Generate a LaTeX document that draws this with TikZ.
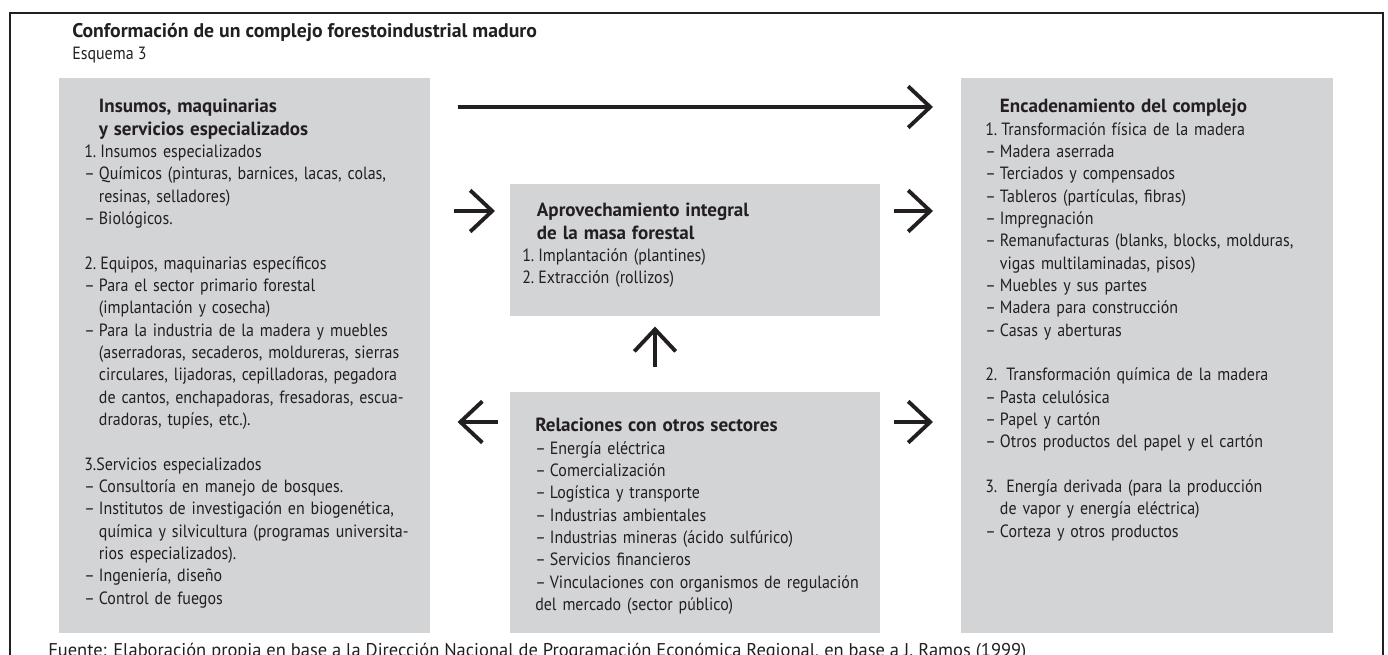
\documentclass[tikz,border=0pt]{standalone}
\usepackage{fontspec}
\setmainfont{PT Sans}
\newfontfamily\cuerpo[FakeStretch=0.9]{PT Sans}
\newfontfamily\negrita{PT Sans Bold}
\usetikzlibrary{arrows.meta,positioning}

\definecolor{grisbox}{RGB}{211,212,214}
\definecolor{tinta}{RGB}{35,31,32}

% sangrias de las listas
\newcommand{\guion}{\makebox[11pt][l]{–}}
\newcommand{\sang}{\hspace*{11pt}}
\newcommand{\numi}[1]{\makebox[12pt][l]{#1}}
\newcommand{\tit}[1]{{\negrita\fontsize{14.3}{16.75}\selectfont #1}}

\tikzset{
  caja/.style 2 args={fill=grisbox, inner sep=0pt, anchor=north west,
    minimum width=#1, minimum height=#2},
  lista/.style={inner sep=0pt, anchor=base west, align=left, text width=#1,
    font=\cuerpo\fontsize{13.3}{16.75}\selectfont, text=tinta},
  flecha/.style={line width=2.9pt, draw=tinta,
    -{Straight Barb[length=16.5pt,width=31pt,line width=2.9pt]}},
  marco/.style={line width=1.5pt, draw=tinta},
}

\begin{document}
\begin{tikzpicture}[x=0.75pt,y=-0.75pt]
\useasboundingbox (0,0) rectangle (1388,655);

\draw[marco] (10,690) -- (10,13) -- (1383,13) -- (1383,690);

\node[anchor=base west, inner sep=0pt, text=tinta, font=\negrita\fontsize{14.8}{16}\selectfont]
  (titulo) at (72,38) {Conformación de un complejo forestoindustrial maduro};
\node[anchor=base west, inner sep=0pt, text=tinta, font=\cuerpo\fontsize{13.3}{16}\selectfont]
  (esquema) at (72,60) {Esquema 3};

% cajas grises
\node[caja={278.25pt}{416.25pt}] (insumos) at (59,78) {};
\node[caja={277.5pt}{99pt}] (aprov) at (510,184) {};
\node[caja={277.5pt}{180.75pt}] (relac) at (510,392) {};
\node[caja={279pt}{416.25pt}] (encad) at (961,78) {};

% textos
\node[lista=270pt] (insumostxt) at ([shift={(25,35)}]insumos.north west) {%
\sang\tit{Insumos, maquinarias}\\
\sang\tit{y servicios especializados}\\
\numi{1.}Insumos especializados\\
\guion Químicos (pinturas, barnices, lacas, colas,\\
\sang resinas, selladores)\\
\guion Biológicos.\\[16.75pt]
\numi{2.}Equipos, maquinarias específicos\\
\guion Para el sector primario forestal\\
\sang (implantación y cosecha)\\
\guion Para la industria de la madera y muebles\\
\sang (aserradoras, secaderos, moldureras, sierras\\
\sang circulares, lijadoras, cepilladoras, pegadora\\
\sang de cantos, enchapadoras, fresadoras, escua-\\
\sang dradoras, tupíes, etc.).\\[16.75pt]
3.Servicios especializados\\
\guion Consultoría en manejo de bosques.\\
\guion Institutos de investigación en biogenética,\\
\sang química y silvicultura (programas universita-\\
\sang rios especializados).\\
\guion Ingeniería, diseño\\
\guion Control de fuegos};

\node[lista=260pt] (aprovtxt) at ([shift={(12,33)}]aprov.north west) {%
\sang\tit{Aprovechamiento integral}\\
\sang\tit{de la masa forestal}\\
\numi{1.}Implantación (plantines)\\
\numi{2.}Extracción (rollizos)};

\node[lista=260pt] (relactxt) at ([shift={(25,40)}]relac.north west) {%
\tit{Relaciones con otros sectores}\\
\guion Energía eléctrica\\
\guion Comercialización\\
\guion Logística y transporte\\
\guion Industrias ambientales\\
\guion Industrias mineras (ácido sulfúrico)\\
\guion Servicios financieros\\
\guion Vinculaciones con organismos de regulación\\
del mercado (sector público)};

\node[lista=270pt] (encadtxt) at ([shift={(24,35)}]encad.north west) {%
\sang\tit{Encadenamiento del complejo}\\
\numi{1.}Transformación física de la madera\\
\guion Madera aserrada\\
\guion Terciados y compensados\\
\guion Tableros (partículas, fibras)\\
\guion Impregnación\\
\guion Remanufacturas (blanks, blocks, molduras,\\
\sang vigas multilaminadas, pisos)\\
\guion Muebles y sus partes\\
\guion Madera para construcción\\
\guion Casas y aberturas\\[16.75pt]
2. Transformación química de la madera\\
\guion Pasta celulósica\\
\guion Papel y cartón\\
\guion Otros productos del papel y el cartón\\[16.75pt]
3. Energía derivada (para la producción\\
\sang de vapor y energía eléctrica)\\
\guion Corteza y otros productos};

% filas de las flechas
\coordinate (filaA) at (0,107);
\coordinate (filaB) at (0,211);
\coordinate (filaC) at (0,422);
\coordinate (colA) at (655,0);

\draw[flecha, shorten <=20.25pt, shorten >=21pt] (insumos.east |- filaA) -- (encad.west |- filaA);
\draw[flecha, shorten <=17.25pt, shorten >=11.25pt] (insumos.east |- filaB) -- (aprov.west |- filaB);
\draw[flecha, shorten <=9.75pt, shorten >=21pt] (aprov.east |- filaB) -- (encad.west |- filaB);
\draw[flecha, shorten <=9pt, shorten >=20.25pt] (relac.west |- filaC) -- (insumos.east |- filaC);
\draw[flecha, shorten <=9.75pt, shorten >=21pt] (relac.east |- filaC) -- (encad.west |- filaC);
\draw[flecha, shorten <=18.75pt, shorten >=7.5pt] (colA |- relac.north) -- (colA |- aprov.south);

\node[anchor=base west, inner sep=0pt, text=tinta, font=\fontsize{13.85}{16}\selectfont]
  (fuente) at (48,656) {Fuente: Elaboración propia en base a la Dirección Nacional de Programación Económica Regional, en base a J. Ramos (1999)};
\end{tikzpicture}
\end{document}
